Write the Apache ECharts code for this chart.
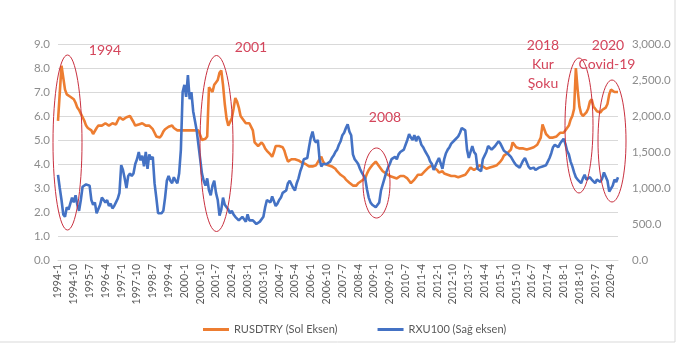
<!DOCTYPE html>
<html>
<head>
<meta charset="utf-8">
<script src="https://cdn.jsdelivr.net/npm/echarts@6/dist/echarts.min.js"></script>
<style>
html,body{margin:0;padding:0;background:#fff;}
#chart{width:690px;height:356px;}
</style>
</head>
<body>
<div id="chart"></div>
<script>
// Monthly categories 1994-1 .. 2020-8
var startYear = 1994, endYear = 2020, endMonth = 8;
var categories = [];
for (var y = startYear; y <= endYear; y++) {
  for (var m = 1; m <= 12; m++) {
    if (y === endYear && m > endMonth) break;
    categories.push(y + '-' + m);
  }
}

// RUSDTRY (left axis)
var rusdtry = [
  5.8,5.75,8.1,7.6,7.1,6.9,6.95,6.8,6.85,6.7,6.55,6.35,
  6.25,6.1,6.05,5.8,5.6,5.5,5.45,5.4,5.25,5.2,5.5,5.6,
  5.55,5.6,5.65,5.7,5.65,5.6,5.65,5.7,5.7,5.65,5.8,5.95,
  5.9,5.85,5.8,5.95,5.9,6.0,5.95,5.75,5.6,5.6,5.65,5.65,
  5.7,5.7,5.6,5.65,5.6,5.55,5.45,5.3,5.15,5.1,5.1,5.2,
  5.35,5.45,5.5,5.55,5.6,5.6,5.5,5.45,5.4,5.4,5.4,5.4,
  5.4,5.4,5.4,5.4,5.4,5.4,5.4,5.4,5.4,5.2,5.0,5.0,
  5.05,5.15,7.2,7.25,7.0,7.3,7.4,7.5,7.8,7.9,7.3,6.5,
  5.9,5.6,5.65,5.9,6.3,6.75,6.6,6.35,6.0,5.9,5.95,5.7,
  5.75,5.7,5.75,5.4,4.9,4.85,4.75,4.7,4.9,4.8,4.65,4.55,
  4.5,4.4,4.3,4.5,4.75,4.8,4.75,4.75,4.7,4.55,4.3,4.1,
  4.15,4.2,4.15,4.2,4.2,4.15,4.1,4.05,4.1,4.0,3.95,3.9,
  3.9,3.9,3.9,3.95,4.0,4.2,4.3,4.1,4.0,3.98,3.95,3.95,
  3.9,3.85,3.8,3.7,3.62,3.55,3.5,3.45,3.35,3.3,3.22,3.15,
  3.1,3.05,3.1,3.2,3.25,3.3,3.35,3.4,3.6,3.75,3.85,3.95,
  4.0,4.1,4.0,3.9,3.85,3.7,3.7,3.6,3.55,3.5,3.5,3.45,
  3.45,3.4,3.45,3.5,3.45,3.5,3.5,3.4,3.3,3.2,3.25,3.35,
  3.45,3.55,3.5,3.55,3.6,3.7,3.75,3.85,3.9,3.95,3.85,3.9,
  3.75,3.65,3.65,3.7,3.6,3.6,3.55,3.55,3.5,3.5,3.5,3.45,
  3.45,3.45,3.5,3.55,3.55,3.65,3.7,3.85,3.8,3.75,3.8,3.85,
  3.95,4.0,3.9,3.85,3.8,3.85,3.85,3.9,3.9,3.95,3.95,4.0,
  4.1,4.2,4.35,4.4,4.45,4.45,4.6,4.9,4.8,4.7,4.75,4.65,
  4.7,4.65,4.6,4.6,4.65,4.65,4.7,4.7,4.7,4.8,4.95,5.1,
  5.65,5.45,5.25,5.2,5.1,5.1,5.1,5.15,5.15,5.2,5.3,5.35,
  5.3,5.4,5.5,5.6,5.85,6.0,6.3,8.0,7.1,6.4,6.1,6.0,
  6.05,6.15,6.3,6.6,6.7,6.4,6.3,6.2,6.2,6.15,6.25,6.3,
  6.35,6.5,6.9,7.1,7.15,7.0,6.95,7.0
];

// RXU100 (right axis)
var rxu100 = [
  1183,1000,833,633,600,733,700,783,867,800,900,767,
  683,833,1017,1033,1050,1033,1033,833,767,800,650,667,
  767,867,850,800,833,750,783,717,750,800,850,933,
  1317,1250,1133,1000,1167,1200,1167,1200,1333,1400,1500,1383,
  1450,1300,1500,1267,1467,1400,1433,1067,867,650,667,650,
  683,867,1100,1167,1100,1067,1150,1100,1067,1200,1533,2333,
  2433,2267,2567,2233,2333,2067,1933,1800,1600,1400,1200,1100,
  1033,1133,967,900,1033,1100,933,833,617,700,867,767,
  767,700,650,683,633,600,583,550,567,600,567,533,
  633,550,567,550,533,500,517,533,517,600,733,833,
  817,800,883,817,750,783,833,867,933,950,967,1067,
  1100,1117,1000,967,1067,1133,1233,1300,1400,1383,1417,1567,
  1700,1783,1667,1633,1667,1400,1300,1333,1350,1333,1350,1367,
  1417,1450,1500,1533,1600,1650,1733,1767,1833,1883,1783,1733,
  1467,1400,1367,1333,1267,1217,1200,1133,983,867,800,767,
  767,733,717,800,967,1050,1133,1217,1283,1333,1400,1400,
  1433,1400,1467,1500,1483,1533,1600,1667,1750,1700,1667,1733,
  1650,1717,1683,1600,1567,1517,1500,1433,1367,1333,1250,1233,
  1367,1417,1433,1267,1400,1483,1533,1567,1617,1633,1667,1683,
  1717,1767,1833,1850,1800,1533,1417,1500,1583,1500,1467,1267,
  1250,1233,1400,1450,1500,1583,1600,1533,1550,1583,1617,1650,
  1617,1567,1517,1500,1483,1467,1433,1417,1350,1317,1300,1283,
  1333,1383,1417,1400,1300,1267,1283,1283,1250,1233,1283,1300,
  1300,1283,1317,1367,1417,1483,1567,1600,1583,1567,1617,1633,
  1683,1617,1517,1467,1367,1300,1217,1150,1117,1100,1067,1133,
  1183,1117,1100,1150,1117,1100,1067,1117,1100,1083,1133,1217,
  1200,1100,950,933,1033,1117,1083,1150
];

var leftTicks = [0,1,2,3,4,5,6,7,8,9];
var rightTicks = [0,500,1000,1500,2000,2500,3000];
var seriesNames = ['RUSDTRY (Sol Eksen)', 'RXU100 (Sağ eksen)'];

var annotations = [
  {text: '1994', x: 105, y: 50},
  {text: '2001', x: 251, y: 47},
  {text: '2008', x: 385, y: 117},
  {text: '2018', x: 543, y: 45},
  {text: 'Kur', x: 543, y: 64},
  {text: 'Şoku', x: 543, y: 83},
  {text: '2020', x: 608, y: 45},
  {text: 'Covid-19', x: 607, y: 64}
];
var ellipses = [
  {cx: 67.5, cy: 142.5, rx: 14.5, ry: 87.5},
  {cx: 216.5, cy: 143.5, rx: 16.5, ry: 88},
  {cx: 376.5, cy: 183, rx: 13.5, ry: 35},
  {cx: 579, cy: 125.5, rx: 14, ry: 67.5},
  {cx: 612, cy: 141, rx: 14, ry: 61}
];

var FONT = 'Lato, "Open Sans", sans-serif';
var RED = '#d4455b';

var graphics = [];
ellipses.forEach(function (e) {
  graphics.push({
    type: 'ellipse', shape: {cx: e.cx, cy: e.cy, rx: e.rx, ry: e.ry},
    style: {fill: 'none', stroke: '#c9303f', lineWidth: 1}, z: 100
  });
});
annotations.forEach(function (a) {
  graphics.push({
    type: 'text', x: a.x, y: a.y, z: 101,
    style: {text: a.text, fill: RED, font: '14px ' + FONT, textAlign: 'center', textVerticalAlign: 'middle'}
  });
});
graphics.push({
  type: 'polyline', shape: {points: [[675, 0], [675, 342], [0, 342]]},
  style: {stroke: '#d9d9d9', lineWidth: 1, fill: 'none'}, z: 0
});

function fmtRight(v) {
  return v.toLocaleString('en-US', {minimumFractionDigits: 1, maximumFractionDigits: 1});
}

var chart = echarts.init(document.getElementById('chart'), null, {renderer: 'canvas'});
chart.setOption({
  backgroundColor: '#ffffff',
  animation: false,
  textStyle: {fontFamily: FONT},
  grid: {left: 58, right: 72, top: 44, bottom: 96, containLabel: false},
  legend: {
    data: seriesNames,
    left: 198, top: 319,
    itemGap: 40, itemWidth: 26, itemHeight: 3,
    icon: 'rect',
    textStyle: {color: '#595959', fontSize: 11, fontFamily: FONT}
  },
  xAxis: {
    type: 'category',
    data: categories,
    boundaryGap: false,
    axisLine: {lineStyle: {color: '#d9d9d9'}},
    axisTick: {show: false},
    axisLabel: {
      interval: 8, rotate: 90, color: '#595959', fontSize: 10.5, margin: 4, fontFamily: FONT
    },
    splitLine: {show: false}
  },
  yAxis: [
    {
      type: 'value', min: leftTicks[0], max: leftTicks[leftTicks.length - 1], interval: 1,
      axisLine: {show: false}, axisTick: {show: false},
      axisLabel: {color: '#8c8c8c', fontSize: 11.5, margin: 8, formatter: function (v) { return v.toFixed(1); }},
      splitLine: {lineStyle: {color: '#d9d9d9', width: 1}}
    },
    {
      type: 'value', min: rightTicks[0], max: rightTicks[rightTicks.length - 1], interval: 500,
      axisLine: {show: false}, axisTick: {show: false},
      axisLabel: {color: '#8c8c8c', fontSize: 11.5, margin: 14, formatter: fmtRight},
      splitLine: {show: false}
    }
  ],
  series: [
    {
      name: seriesNames[0], type: 'line', yAxisIndex: 0, data: rusdtry,
      showSymbol: false, symbol: 'none',
      lineStyle: {color: '#ed7d31', width: 2.6}, itemStyle: {color: '#ed7d31'}, z: 2
    },
    {
      name: seriesNames[1], type: 'line', yAxisIndex: 1, data: rxu100,
      showSymbol: false, symbol: 'none',
      lineStyle: {color: '#4472c4', width: 2.6}, itemStyle: {color: '#4472c4'}, z: 3
    }
  ],
  graphic: {elements: graphics}
});
</script>
</body>
</html>
